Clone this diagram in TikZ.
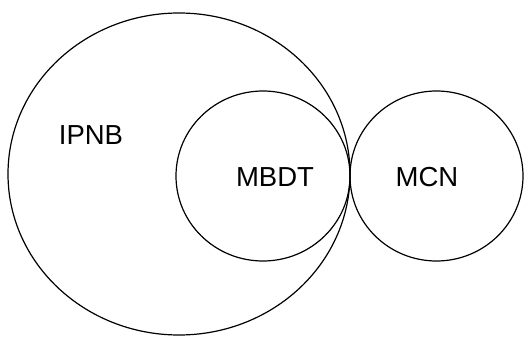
\documentclass[tikz,border=0pt]{standalone}
\usepackage{fontspec}
\setmainfont{Liberation Sans}
\usepackage{tikz}

\tikzset{setname/.style={font=\fontsize{27.5}{32}\selectfont}}

\begin{document}
\begin{tikzpicture}[x=1pt, y=-1pt, line width=1.2pt]
\useasboundingbox (0,0) rectangle (531,337);
\draw (179,174) ellipse [x radius=171, y radius=161];
\draw (263,176) ellipse [x radius=87, y radius=85];
\draw (436.5,176) ellipse [x radius=86.5, y radius=85];
 
\node (ipnb) at (91,135) [setname] {IPNB};
\node (mbdt) at (275,177) [setname] {MBDT};
\node (mcn) at (427,177) [setname] {MCN};
\end{tikzpicture}
\end{document}
